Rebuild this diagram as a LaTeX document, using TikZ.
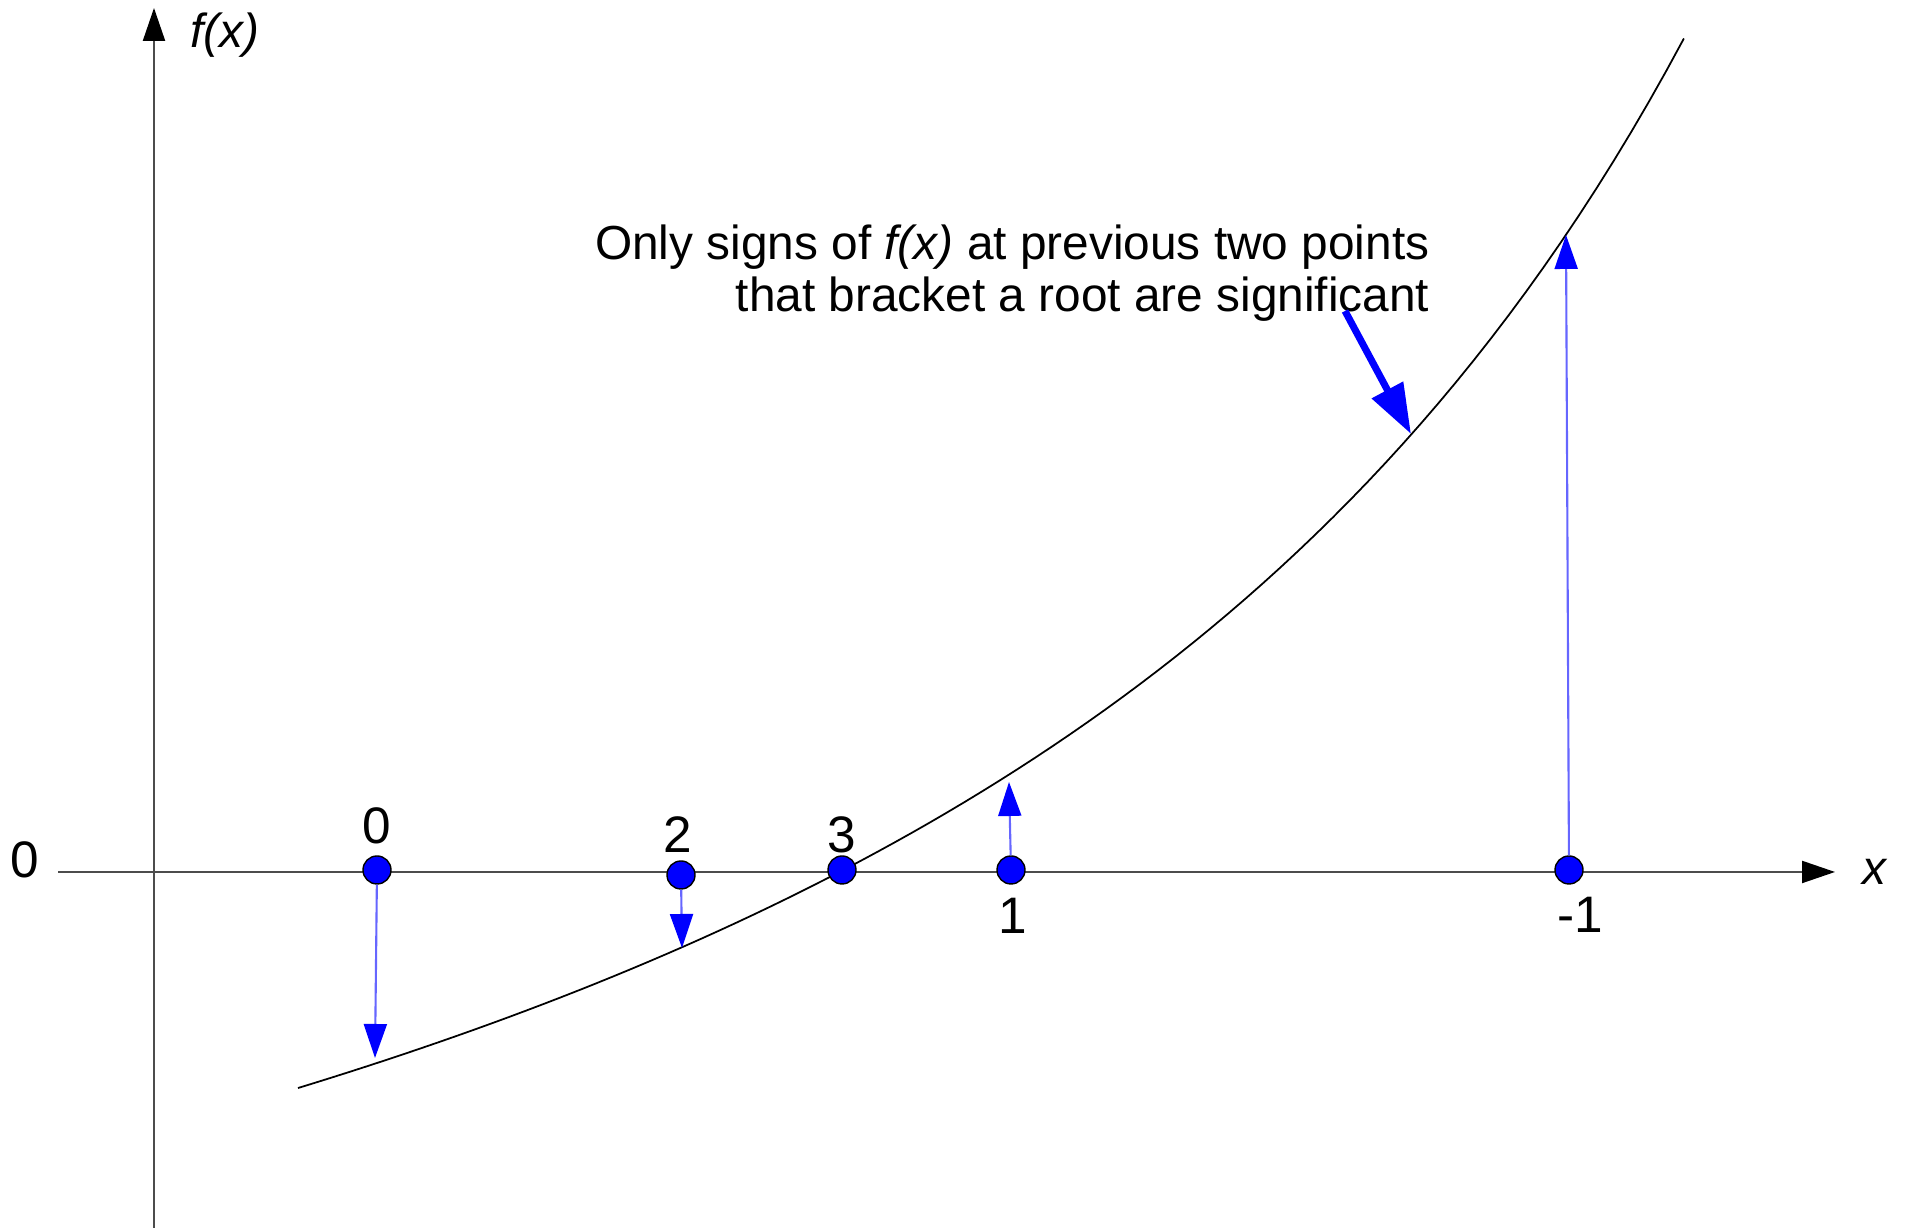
\documentclass[tikz,border=0pt]{standalone}
\usepackage{fontspec}
\setmainfont{Liberation Sans}
\usetikzlibrary{arrows.meta, positioning}

\begin{document}
\begin{tikzpicture}[
      axisline/.style={black!70, line width=0.6pt, -{Triangle[length=0.33cm, width=0.22cm, black]}},
      rootpt/.style={circle, fill=blue, draw=black, line width=0.4pt, minimum size=0.28cm, inner sep=0pt},
      signarrow/.style={blue!60, line width=0.6pt, -{Triangle[length=0.34cm, width=0.23cm, blue]}},
      lbl/.style={font=\fontsize{13.6}{14.8}\selectfont, inner sep=0pt},
      ptlbl/.style={font=\fontsize{14.6}{16}\selectfont, inner sep=0pt}
   ]
   \useasboundingbox (0,0) rectangle (19.05,12.28);
   % Axes
   \coordinate (xl) at (0.58,3.56);
   \coordinate (xr) at (18.35,3.56);
   \coordinate (yb) at (1.54,0);
   \coordinate (yt) at (1.54,12.20);
   \draw[axisline] (xl) -- (xr);
   \draw[axisline] (yb) -- (yt);
   \node[lbl] (yname) at (2.25,11.93) {\textit{f(x)}};
   \node[lbl] (xname) at (18.75,3.56) {\textit{x}};
   \node[ptlbl] (zero) at (0.25,3.68) {0};
   % Function curve: y = 165.6/(26.24-x) - 5.72
   \draw[line width=0.5pt] plot[domain=2.98:16.84, samples=80] (\x, {165.6/(26.24-\x) - 5.72});
   % Points on the curve where the arrows end
   \coordinate (f0) at (3.75,1.70);
   \coordinate (f2) at (6.82,2.80);
   \coordinate (f1) at (10.09,4.46);
   \coordinate (fm1) at (15.66,9.93);
   % Iterates on the x axis
   \node[rootpt] (x0) at (3.77,3.58) {};
   \node[rootpt] (x2) at (6.81,3.53) {};
   \node[rootpt] (x3) at (8.42,3.58) {};
   \node[rootpt] (x1) at (10.11,3.58) {};
   \node[rootpt] (xm1) at (15.69,3.58) {};
   \node[ptlbl] (l0) at (3.77,4.02) {0};
   \node[ptlbl] (l2) at (6.78,3.93) {2};
   \node[ptlbl] (l3) at (8.42,3.93) {3};
   \node[ptlbl] (l1) at (10.13,3.12) {1};
   \node[ptlbl] (lm1) at (15.80,3.13) {-1};
   % Signs of f(x)
   \draw[signarrow] (x0) -- (f0);
   \draw[signarrow] (x2) -- (f2);
   \draw[signarrow] (x1) -- (f1);
   \draw[signarrow] (xm1) -- (fm1);
   % Note
   \node[lbl, align=right, anchor=base east] (note) at (14.30,9.16)
      {Only signs of \textit{f(x)} at previous two points\\ that bracket a root are significant};
   \coordinate (ptail) at (13.45,9.17);
   \coordinate (ptip) at (14.11,7.94);
   \draw[blue, line width=2pt, -{Triangle[length=0.5cm, width=0.34cm]}] (ptail) -- (ptip);
\end{tikzpicture}
\end{document}
